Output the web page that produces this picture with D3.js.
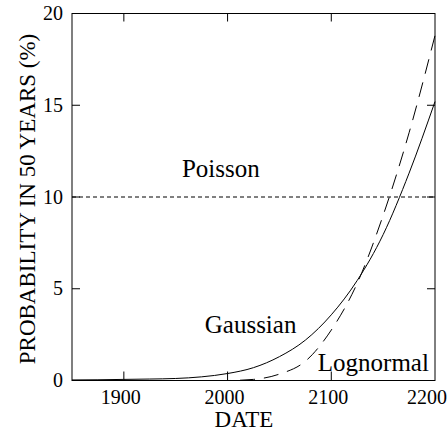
<!DOCTYPE html>
<html>
<head>
<meta charset="utf-8">
<script src="https://cdn.jsdelivr.net/npm/d3@7"></script>
<style>
  body { margin: 0; background: #fff; }
</style>
</head>
<body>
<div id="chart"></div>
<script>
// Data
var years = [1850, 1875, 1900, 1925, 1950, 1975, 2000, 2025, 2050, 2075, 2100, 2125, 2150, 2175, 2200];
var gaussian = [0.03, 0.04, 0.06, 0.08, 0.11, 0.2, 0.38, 0.7, 1.3, 2.2, 3.58, 5.45, 7.95, 11.3, 15.2];
var lognormal = [0, 0, 0, 0, 0, 0, 0, 0.06, 0.35, 1.05, 2.75, 5.3, 9.0, 13.5, 18.8];
var poisson = 10;
var xTicks = [1900, 2000, 2100, 2200];
var yTicks = [0, 5, 10, 15, 20];

var W = 448, H = 433;
var margin = {top: 13.5, right: 13, bottom: 52.5, left: 72},
	width = W - margin.left - margin.right,
	height = H - margin.top - margin.bottom;

var xScale = d3.scaleLinear().domain([1850, 2200]).range([0, width]),
	yScale = d3.scaleLinear().domain([0, 20]).range([height, 0]);

var svg = d3.select("#chart").append("svg")
	.attr("width", W)
	.attr("height", H)
	.attr("font-family", "Liberation Serif")
	.append("g")
	.attr("transform", "translate(" + margin.left + "," + margin.top + ")");

// frame
svg.append("rect")
	.attr("width", width)
	.attr("height", height)
	.attr("fill", "none")
	.attr("stroke", "#000")
	.attr("stroke-width", 1);

// ticks pointing inward on all four sides
var tickX = xTicks.filter(function(d) { return d < 2200; });
var tickY = yTicks.filter(function(d) { return d > 0 && d < 20; });

svg.append("g").selectAll("line").data(tickX).enter().append("line")
	.attr("x1", xScale).attr("x2", xScale)
	.attr("y1", height).attr("y2", height - 9)
	.attr("stroke", "#000");
svg.append("g").selectAll("line").data(tickX).enter().append("line")
	.attr("x1", xScale).attr("x2", xScale)
	.attr("y1", 0).attr("y2", 8)
	.attr("stroke", "#000");
svg.append("g").selectAll("line").data(tickY).enter().append("line")
	.attr("x1", 0).attr("x2", 8)
	.attr("y1", yScale).attr("y2", yScale)
	.attr("stroke", "#000");
svg.append("g").selectAll("line").data(tickY).enter().append("line")
	.attr("x1", width).attr("x2", width - 8)
	.attr("y1", yScale).attr("y2", yScale)
	.attr("stroke", "#000");

// tick labels (last one pulled in so it fits the window)
svg.append("g").selectAll("text").data(xTicks).enter().append("text")
	.attr("x", function(d) { return d == 2200 ? W - margin.left - 1 : xScale(d) - 3; })
	.attr("y", height + 23)
	.attr("text-anchor", function(d) { return d == 2200 ? "end" : "middle"; })
	.attr("font-size", 20)
	.text(function(d) { return d; });

svg.append("g").selectAll("text").data(yTicks).enter().append("text")
	.attr("x", -9)
	.attr("y", yScale)
	.attr("dy", "0.33em")
	.attr("text-anchor", "end")
	.attr("font-size", 20)
	.text(function(d) { return d; });

// axis labels
svg.append("text")
	.attr("x", 244 - margin.left)
	.attr("y", height + 46)
	.attr("text-anchor", "middle")
	.attr("font-size", 23)
	.text("DATE");

svg.append("text")
	.attr("transform", "translate(" + (35 - margin.left) + "," + (199 - margin.top) + ") rotate(-90)")
	.attr("text-anchor", "middle")
	.attr("font-size", 23)
	.text("PROBABILITY IN 50 YEARS (%)");

// curves
var line = d3.line()
	.x(function(d) { return xScale(d[0]); })
	.y(function(d) { return yScale(d[1]); })
	.curve(d3.curveMonotoneX);

svg.append("line")
	.attr("x1", xScale(1850)).attr("x2", xScale(2200))
	.attr("y1", yScale(poisson)).attr("y2", yScale(poisson))
	.attr("stroke", "#000")
	.attr("stroke-width", 1)
	.attr("stroke-dasharray", "4,3");

svg.append("path")
	.datum(d3.zip(years, gaussian))
	.attr("d", line)
	.attr("fill", "none")
	.attr("stroke", "#000")
	.attr("stroke-width", 1);

svg.append("path")
	.datum(d3.zip(years, lognormal))
	.attr("d", line)
	.attr("fill", "none")
	.attr("stroke", "#000")
	.attr("stroke-width", 1)
	.attr("stroke-dasharray", "15,9");

// curve labels
svg.append("text")
	.attr("x", xScale(1956))
	.attr("y", yScale(11.1))
	.attr("font-size", 25)
	.text("Poisson");

svg.append("text")
	.attr("x", xScale(1978))
	.attr("y", yScale(2.6))
	.attr("font-size", 25)
	.text("Gaussian");

svg.append("text")
	.attr("x", xScale(2087))
	.attr("y", yScale(0.52))
	.attr("font-size", 25)
	.text("Lognormal");
</script>
</body>
</html>
